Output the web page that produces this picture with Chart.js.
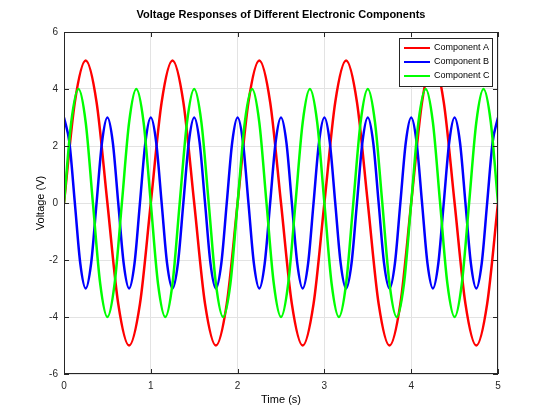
<!DOCTYPE html>
<html lang="en">
<head>
    <meta charset="UTF-8">
    <title>Voltage Responses of Different Electronic Components</title>
    <style>
        body {
            margin: 0;
            padding: 0;
            background: #ffffff;
        }
        .chart-container {
            width: 540px;
            height: 420px;
            position: relative;
        }
    </style>
</head>
<body>
    <div class="chart-container">
        <canvas id="voltChart"></canvas>
    </div>

    <script src="https://cdn.jsdelivr.net/npm/chart.js"></script>
    <script>
        // Valores (tempo em s, tensão em V)
        const seriesNames = ['Component A', 'Component B', 'Component C'];
        const seriesColors = ['#ff0000', '#0000ff', '#00ff00'];

        const timeA = [
            0, 0.125, 0.25, 0.375, 0.5, 0.625, 0.75, 0.875,
            1, 1.125, 1.25, 1.375, 1.5, 1.625, 1.75, 1.875,
            2, 2.125, 2.25, 2.375, 2.5, 2.625, 2.75, 2.875,
            3, 3.125, 3.25, 3.375, 3.5, 3.625, 3.75, 3.875,
            4, 4.125, 4.25, 4.375, 4.5, 4.625, 4.75, 4.875,
            5
        ];
        const voltA = [
            0, 3.54, 5, 3.54, 0, -3.54, -5, -3.54,
            0, 3.54, 5, 3.54, 0, -3.54, -5, -3.54,
            0, 3.54, 5, 3.54, 0, -3.54, -5, -3.54,
            0, 3.54, 5, 3.54, 0, -3.54, -5, -3.54,
            0, 3.54, 5, 3.54, 0, -3.54, -5, -3.54,
            0
        ];

        const timeB = [
            0, 0.0625, 0.125, 0.1875, 0.25, 0.3125, 0.375, 0.4375,
            0.5, 0.5625, 0.625, 0.6875, 0.75, 0.8125, 0.875, 0.9375,
            1, 1.0625, 1.125, 1.1875, 1.25, 1.3125, 1.375, 1.4375,
            1.5, 1.5625, 1.625, 1.6875, 1.75, 1.8125, 1.875, 1.9375,
            2, 2.0625, 2.125, 2.1875, 2.25, 2.3125, 2.375, 2.4375,
            2.5, 2.5625, 2.625, 2.6875, 2.75, 2.8125, 2.875, 2.9375,
            3, 3.0625, 3.125, 3.1875, 3.25, 3.3125, 3.375, 3.4375,
            3.5, 3.5625, 3.625, 3.6875, 3.75, 3.8125, 3.875, 3.9375,
            4, 4.0625, 4.125, 4.1875, 4.25, 4.3125, 4.375, 4.4375,
            4.5, 4.5625, 4.625, 4.6875, 4.75, 4.8125, 4.875, 4.9375,
            5
        ];
        const voltB = [
            3, 2.12, 0, -2.12, -3, -2.12, 0, 2.12,
            3, 2.12, 0, -2.12, -3, -2.12, 0, 2.12,
            3, 2.12, 0, -2.12, -3, -2.12, 0, 2.12,
            3, 2.12, 0, -2.12, -3, -2.12, 0, 2.12,
            3, 2.12, 0, -2.12, -3, -2.12, 0, 2.12,
            3, 2.12, 0, -2.12, -3, -2.12, 0, 2.12,
            3, 2.12, 0, -2.12, -3, -2.12, 0, 2.12,
            3, 2.12, 0, -2.12, -3, -2.12, 0, 2.12,
            3, 2.12, 0, -2.12, -3, -2.12, 0, 2.12,
            3, 2.12, 0, -2.12, -3, -2.12, 0, 2.12,
            3
        ];

        const timeC = [
            0, 0.083, 0.167, 0.25, 0.333, 0.417, 0.5, 0.583,
            0.667, 0.75, 0.833, 0.917, 1, 1.083, 1.167, 1.25,
            1.333, 1.417, 1.5, 1.583, 1.667, 1.75, 1.833, 1.917,
            2, 2.083, 2.167, 2.25, 2.333, 2.417, 2.5, 2.583,
            2.667, 2.75, 2.833, 2.917, 3, 3.083, 3.167, 3.25,
            3.333, 3.417, 3.5, 3.583, 3.667, 3.75, 3.833, 3.917,
            4, 4.083, 4.167, 4.25, 4.333, 4.417, 4.5, 4.583,
            4.667, 4.75, 4.833, 4.917, 5
        ];
        const voltC = [
            0, 2.83, 4, 2.83, 0, -2.83, -4, -2.83,
            0, 2.83, 4, 2.83, 0, -2.83, -4, -2.83,
            0, 2.83, 4, 2.83, 0, -2.83, -4, -2.83,
            0, 2.83, 4, 2.83, 0, -2.83, -4, -2.83,
            0, 2.83, 4, 2.83, 0, -2.83, -4, -2.83,
            0, 2.83, 4, 2.83, 0, -2.83, -4, -2.83,
            0, 2.83, 4, 2.83, 0, -2.83, -4, -2.83,
            0, 2.83, 4, 2.83, 0
        ];

        const xTicks = [0, 1, 2, 3, 4, 5];
        const yTicks = [-6, -4, -2, 0, 2, 4, 6];

        function toPoints(times, volts) {
            return times.map((t, i) => ({ x: t, y: volts[i] }));
        }

        const seriesData = [
            toPoints(timeA, voltA),
            toPoints(timeB, voltB),
            toPoints(timeC, voltC)
        ];

        const fontFamily = "'Liberation Sans', 'DejaVu Sans', sans-serif";

        // Moldura, ticks para dentro, título e legenda no estilo Octave
        const framePlugin = {
            id: 'frame',
            afterDraw(chart) {
                const ctx = chart.ctx;
                const area = chart.chartArea;
                const xs = chart.scales.x;
                const ys = chart.scales.y;

                ctx.save();
                ctx.strokeStyle = '#262626';
                ctx.lineWidth = 1;
                ctx.strokeRect(area.left + 0.5, area.top + 0.5,
                    area.right - area.left - 1, area.bottom - area.top - 1);

                ctx.beginPath();
                xTicks.forEach(v => {
                    const px = Math.round(xs.getPixelForValue(v)) + 0.5;
                    ctx.moveTo(px, area.bottom);
                    ctx.lineTo(px, area.bottom - 5);
                    ctx.moveTo(px, area.top);
                    ctx.lineTo(px, area.top + 5);
                });
                yTicks.forEach(v => {
                    const py = Math.round(ys.getPixelForValue(v)) + 0.5;
                    ctx.moveTo(area.left, py);
                    ctx.lineTo(area.left + 5, py);
                    ctx.moveTo(area.right, py);
                    ctx.lineTo(area.right - 5, py);
                });
                ctx.stroke();

                // título
                ctx.fillStyle = '#000000';
                ctx.font = 'bold 11px ' + fontFamily;
                ctx.textAlign = 'center';
                ctx.textBaseline = 'middle';
                ctx.fillText('Voltage Responses of Different Electronic Components',
                    (area.left + area.right) / 2, 15);

                // legenda
                const boxW = 93, boxH = 48;
                const bx = area.right - 6 - boxW;
                const by = area.top + 6;
                ctx.fillStyle = '#ffffff';
                ctx.fillRect(bx, by, boxW, boxH);
                ctx.strokeStyle = '#262626';
                ctx.strokeRect(bx + 0.5, by + 0.5, boxW, boxH);
                ctx.font = '9px ' + fontFamily;
                ctx.textAlign = 'left';
                seriesNames.forEach((name, i) => {
                    const ly = by + 10 + i * 14;
                    ctx.strokeStyle = seriesColors[i];
                    ctx.lineWidth = 2;
                    ctx.beginPath();
                    ctx.moveTo(bx + 5, ly);
                    ctx.lineTo(bx + 31, ly);
                    ctx.stroke();
                    ctx.fillStyle = '#000000';
                    ctx.fillText(name, bx + 35, ly);
                });
                ctx.restore();
            }
        };

        new Chart(document.getElementById('voltChart'), {
            type: 'line',
            data: {
                datasets: seriesNames.map((name, i) => ({
                    label: name,
                    data: seriesData[i],
                    borderColor: seriesColors[i],
                    backgroundColor: seriesColors[i],
                    borderWidth: 2.5,
                    pointRadius: 0,
                    fill: false,
                    cubicInterpolationMode: 'monotone',
                    order: 3 - i
                }))
            },
            options: {
                responsive: true,
                maintainAspectRatio: false,
                animation: false,
                layout: {
                    padding: { left: 0, right: 42, top: 32, bottom: 0 }
                },
                plugins: {
                    legend: { display: false },
                    title: { display: false },
                    tooltip: { enabled: false }
                },
                scales: {
                    x: {
                        type: 'linear',
                        min: 0,
                        max: 5,
                        afterFit(scale) { scale.height = 46; },
                        afterBuildTicks(scale) { scale.ticks = xTicks.map(v => ({ value: v })); },
                        border: { display: false },
                        grid: { color: '#e3e3e3', drawTicks: false },
                        ticks: {
                            color: '#262626',
                            font: { family: fontFamily, size: 10 },
                            padding: 6
                        },
                        title: {
                            display: true,
                            text: 'Time (s)',
                            color: '#000000',
                            font: { family: fontFamily, size: 11 },
                            padding: { top: 0, bottom: 13 }
                        }
                    },
                    y: {
                        type: 'linear',
                        min: -6,
                        max: 6,
                        afterFit(scale) { scale.width = 64; },
                        afterBuildTicks(scale) { scale.ticks = yTicks.map(v => ({ value: v })); },
                        border: { display: false },
                        grid: { color: '#e3e3e3', drawTicks: false },
                        ticks: {
                            color: '#262626',
                            font: { family: fontFamily, size: 10 },
                            padding: 6
                        },
                        title: {
                            display: true,
                            text: 'Voltage (V)',
                            color: '#000000',
                            font: { family: fontFamily, size: 11 },
                            padding: { top: 34, bottom: 0 }
                        }
                    }
                }
            },
            plugins: [framePlugin]
        });
    </script>
</body>
</html>
